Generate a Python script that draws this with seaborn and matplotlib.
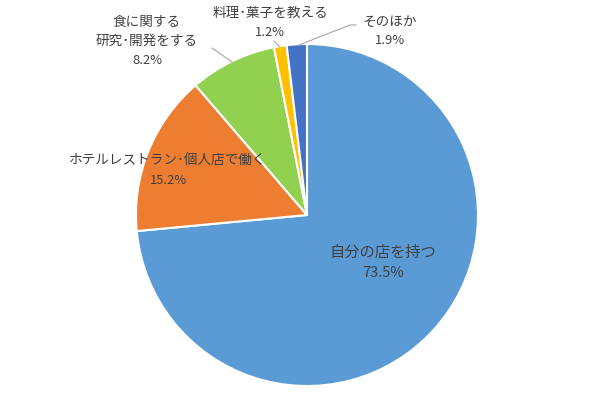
import matplotlib
matplotlib.use("Agg")
import matplotlib.pyplot as plt
import seaborn as sns
import numpy as np

sns.set_theme(style="white")
plt.rcParams['font.family'] = ['Noto Sans CJK JP', 'DejaVu Sans']

categories = ["自分の店を持つ", "ホテルレストラン･個人店で働く", "食に関する\n研究･開発をする", "料理･菓子を教える", "そのほか"]
values = [73.5, 15.2, 8.2, 1.2, 1.9]
pct_labels = ["73.5%", "15.2%", "8.2%", "1.2%", "1.9%"]
colors = ["#5B9BD5", "#ED7D31", "#92D050", "#FFC000", "#4472C4"]

W, H = 600, 396
fig = plt.figure(figsize=(6, 3.96), dpi=100)
ax = fig.add_axes([0, 0, 1, 1])

cx, cy, r = 307, H - 215, 171
wedges, _ = ax.pie(values, colors=colors, startangle=90, counterclock=False,
                   center=(cx, cy), radius=r, frame=True,
                   wedgeprops=dict(edgecolor='white', linewidth=1.5))
ax.set_xlim(0, W)
ax.set_ylim(0, H)
ax.set_aspect('equal')
ax.axis('off')

tc = "#404040"
# label positions (pixel coords, top-origin)
lab_pos = [(383, 252), (168, 160), (147, 31), (270, 13), (390, 22)]
pct_pos = [(383, 273), (168, 181), (147, 61), (270, 32), (390, 41)]
sizes = [11, 9.8, 9.8, 9.8, 9.8]
for i in range(len(categories)):
    lx, ly = lab_pos[i]
    ax.text(lx, H - ly, categories[i], ha='center', va='center', color=tc,
            fontsize=sizes[i], linespacing=1.45)
    px, py = pct_pos[i]
    ax.text(px, H - py, pct_labels[i], ha='center', va='center', color=tc,
            fontsize=sizes[i] - 0.5)

# leader lines
lc = "#A6A6A6"
for pts in [[(212, 48), (232, 62)], [(274, 41), (280, 47)], [(356, 25), (350, 25), (299, 45)]]:
    xs = [p[0] for p in pts]
    ys = [H - p[1] for p in pts]
    ax.plot(xs, ys, color=lc, linewidth=0.8)

fig.savefig("out.png", dpi=100, facecolor='white')
